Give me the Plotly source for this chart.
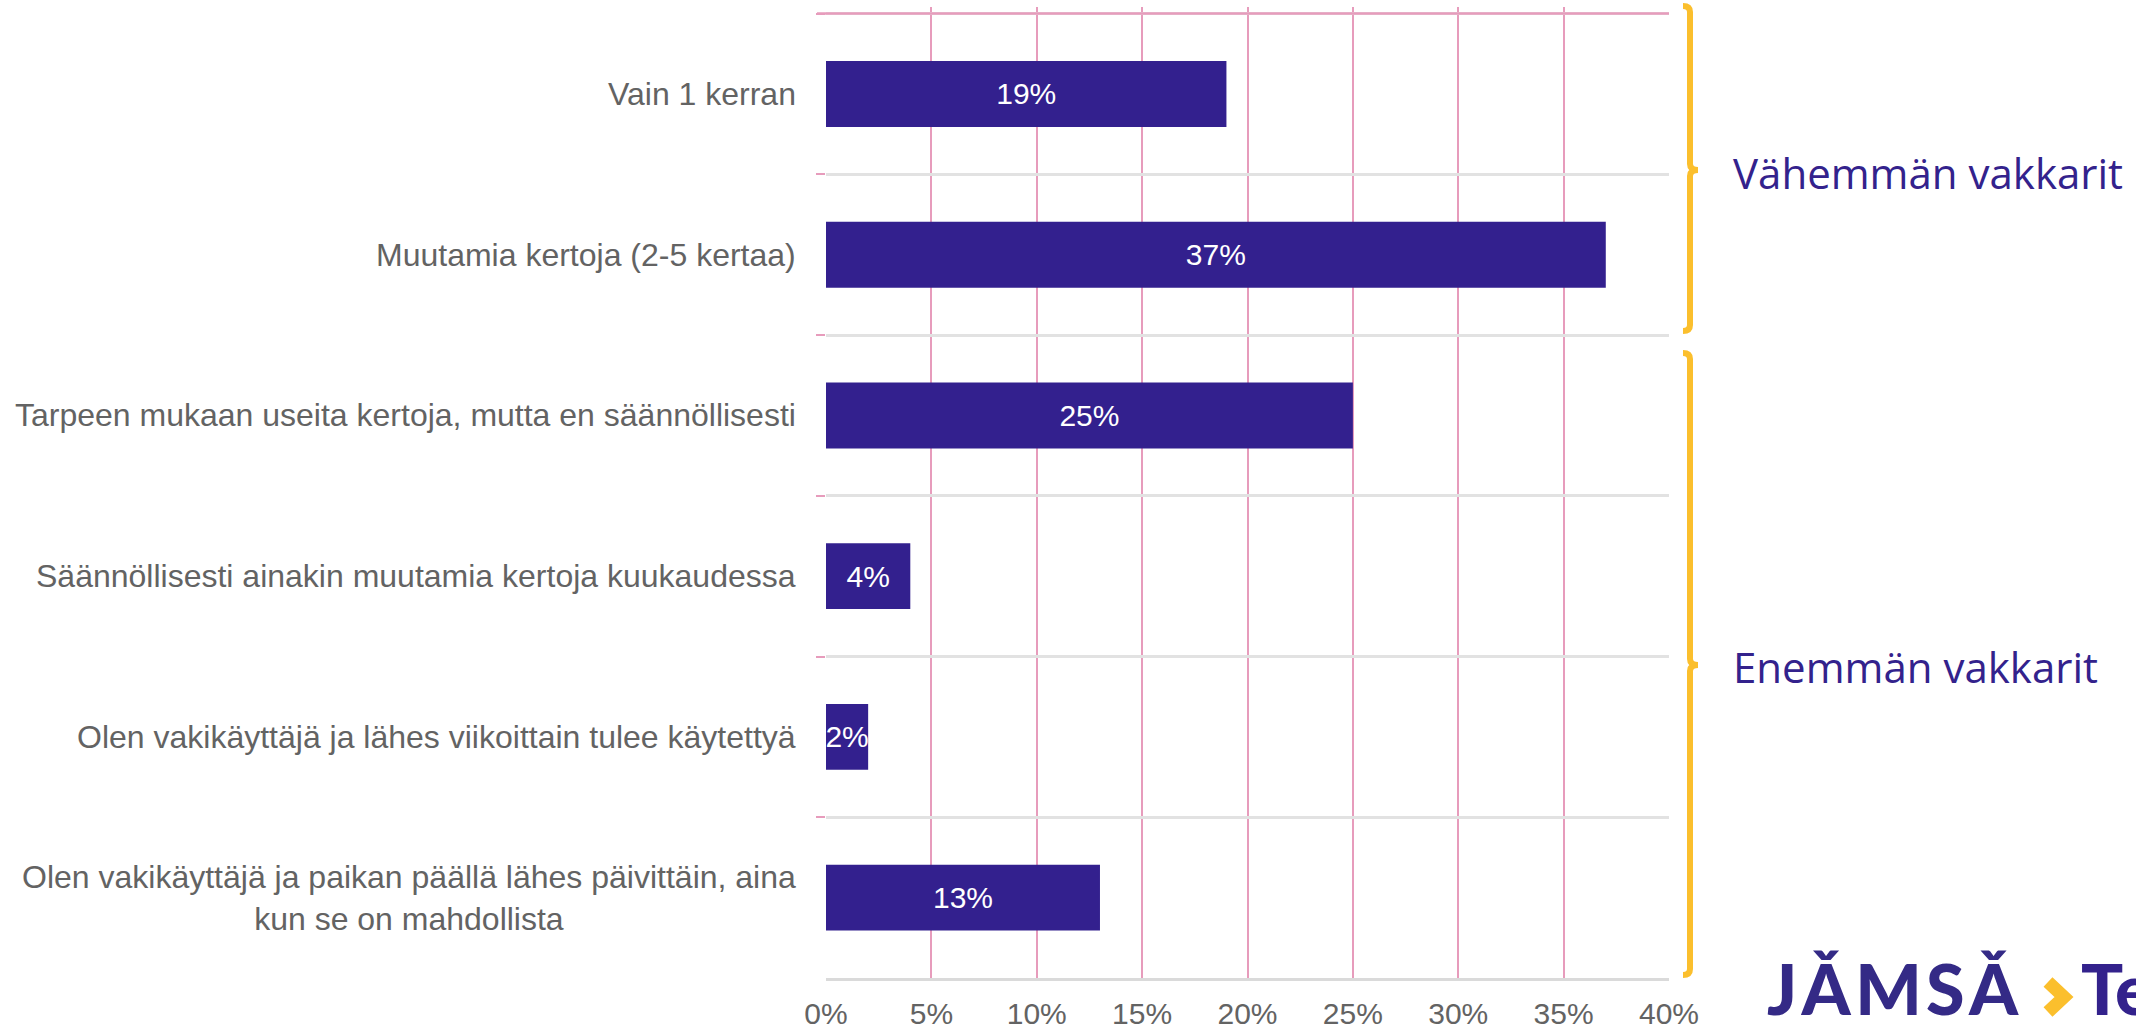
import plotly.graph_objects as go

# ---- data ----
categories = [
    "Vain 1 kerran",
    "Muutamia kertoja (2-5 kertaa)",
    "Tarpeen mukaan useita kertoja, mutta en säännöllisesti",
    "Säännöllisesti ainakin muutamia kertoja kuukaudessa",
    "Olen vakikäyttäjä ja lähes viikoittain tulee käytettyä",
    "Olen vakikäyttäjä ja paikan päällä lähes päivittäin, aina<br>kun se on mahdollista",
]
values = [19, 37, 25, 4, 2, 13]
x_ticks = [0, 5, 10, 15, 20, 25, 30, 35, 40]
x_tick_labels = ["0%", "5%", "10%", "15%", "20%", "25%", "30%", "35%", "40%"]
group_labels = ["Vähemmän vakkarit", "Enemmän vakkarit"]
logo_text = "J\u200aǍ\u200aM\u200aS\u200aǍ"
logo_tail = "Te"

# ---- style ----
W, H = 2136, 1031
BAR = "#33208E"
PURPLE = "#33228C"
YELLOW = "#FBBF2D"
PINK = "#E79CBC"
GRID_GRAY = "#E2E2E2"
TEXT_GRAY = "#636363"
FONT = "Liberation Sans"

PX_L, PX_R = 826, 1669
PX_T, PX_B = 7, 978


def px(xp):
    return (xp - PX_L) / (PX_R - PX_L)


def py(yp):
    return (PX_B - yp) / (PX_B - PX_T)


fig = go.Figure(
    go.Bar(
        x=values,
        y=categories,
        orientation="h",
        marker=dict(color=BAR, line=dict(width=0)),
        width=0.41,
        text=[f"{v}%" for v in values],
        textposition="inside",
        insidetextanchor="middle",
        constraintext="none",
        textangle=0,
        textfont=dict(family=FONT, size=30, color="white"),
        hoverinfo="skip",
    )
)

# category labels as annotations (centered multi-line like the original)
for c in categories:
    fig.add_annotation(
        x=0, xref="paper", y=c, yref="y",
        text=c, showarrow=False, xanchor="right", yanchor="middle", xshift=-28,
        align="center", font=dict(family=FONT, size=32, color=TEXT_GRAY),
    )

shapes = []
# top pink boundary line
shapes.append(dict(type="line", xref="paper", yref="paper",
                   x0=px(PX_L - 9), x1=1, y0=py(13.6), y1=py(13.6),
                   line=dict(color=PINK, width=2.5)))


def brace(top, mid, bot, xl=1683, xv=1690, xr=1698, r=6):
    pts = [
        f"M {px(xl)},{py(top)}",
        f"Q {px(xv)},{py(top)} {px(xv)},{py(top + r)}",
        f"L {px(xv)},{py(mid - r)}",
        f"Q {px(xv)},{py(mid)} {px(xr)},{py(mid)}",
        f"Q {px(xv)},{py(mid)} {px(xv)},{py(mid + r)}",
        f"L {px(xv)},{py(bot - r)}",
        f"Q {px(xv)},{py(bot)} {px(xl)},{py(bot)}",
    ]
    return dict(type="path", xref="paper", yref="paper", path=" ".join(pts),
                line=dict(color=YELLOW, width=6))


shapes.append(brace(6, 170, 331))
shapes.append(brace(353, 665, 975))

# logo chevron
shapes.append(dict(type="path", xref="paper", yref="paper",
                   path=f"M {px(2048)},{py(982)} L {px(2064)},{py(997)} L {px(2048)},{py(1012)}",
                   line=dict(color=YELLOW, width=13)))

fig.update_layout(shapes=shapes)

# group labels
for lbl, ymid in zip(group_labels, [172, 667]):
    fig.add_annotation(x=px(1731), xref="paper", y=py(ymid), yref="paper",
                       text=lbl, showarrow=False, xanchor="left", yanchor="middle",
                       font=dict(family="Open Sans", size=42, color=PURPLE))

# logo text
fig.add_annotation(x=px(1766), xref="paper", y=py(1031), yref="paper",
                   text=logo_text, showarrow=False, xanchor="left", yanchor="bottom",
                   borderpad=0,
                   font=dict(family="Lato", size=70, color="#342A86", weight=900))
fig.add_annotation(x=px(2080), xref="paper", y=py(1031), yref="paper",
                   text=logo_tail, showarrow=False, xanchor="left", yanchor="bottom",
                   borderpad=0,
                   font=dict(family="Lato", size=70, color=PURPLE, weight=900))

fig.update_xaxes(
    range=[0, 40],
    tickvals=x_ticks,
    ticktext=x_tick_labels,
    showgrid=True, gridcolor=PINK, gridwidth=1.5,
    zeroline=False,
    showline=True, linecolor="#DADADA", linewidth=3,
    ticks="",
    ticklabelstandoff=7,
    tickfont=dict(family=FONT, size=30, color=TEXT_GRAY),
    automargin=False,
    fixedrange=True,
)
fig.update_yaxes(
    type="category",
    categoryorder="array", categoryarray=categories,
    range=[5.5, -0.541],
    tickson="boundaries",
    ticks="outside", ticklen=9, tickwidth=1.5, tickcolor=PINK,
    showticklabels=False,
    showgrid=True, gridcolor=GRID_GRAY, gridwidth=3,
    zeroline=False, showline=False,
    automargin=False,
    fixedrange=True,
)

fig.update_layout(
    width=W, height=H,
    margin=dict(l=PX_L, r=W - PX_R, t=PX_T, b=H - PX_B, pad=0, autoexpand=False),
    paper_bgcolor="white", plot_bgcolor="white",
    showlegend=False,
    bargap=0.59,
)

fig.write_html(
    "out.html",
    config={"displayModeBar": False},
    post_script="document.body.style.margin='0';document.body.style.overflow='hidden';",
)
